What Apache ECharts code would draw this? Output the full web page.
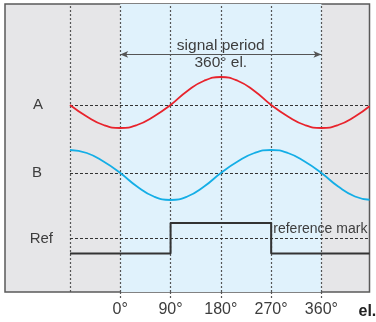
<!DOCTYPE html>
<html><head><meta charset="utf-8">
<script src="https://cdn.jsdelivr.net/npm/echarts@6/dist/echarts.min.js"></script>
<style>html,body{margin:0;padding:0;background:#fff}#c{width:376px;height:322px}</style>
</head><body><div id="c"></div>
<script>
// ---- data ----
const angles  = [-90,-60,-30,0,30,60,90,120,150,180,210,240,270,300,330,360,390,420,446];
const signalA = [0,-0.46,-0.8,-0.92,-0.8,-0.46,0,0.56,0.97,1.12,0.97,0.56,0,-0.46,-0.8,-0.92,-0.8,-0.46,-0.05];
const signalB = [0.92,0.8,0.46,0,-0.54,-0.94,-1.08,-0.94,-0.54,0,0.46,0.8,0.92,0.8,0.46,0,-0.54,-0.94,-1.07];
const refAngles = [-90,90,270,446];
const refLevels = [-0.6,0.62,-0.6,-0.6];
const tickDegrees = [0,90,180,270,360];
const gridDegrees = [-90,0,90,180,270,360];
const periodRange = [0,360];
const trackNames = ['A','B','Ref'];
const periodText = ['signal period','360° el.'];
const refMarkText = 'reference mark';
const axisUnit = 'el.';

const FONT = 'Liberation Sans';
const TXT = '#3d3d3d';
const pts = (xs, ys) => xs.map((x,i)=>[x,ys[i]]);

const chart = echarts.init(document.getElementById('c'), null, {renderer:'canvas'});
const sigGrid = (top) => ({left:70, width:299.5, top:top, height:80, show:false, outerBoundsMode:'none', containLabel:false});
const sigX = (i) => ({type:'value', gridIndex:i, min:-90, max:446, show:false});
const sigY = (i, name, gap, up) => ({
  type:'value', gridIndex:i, min:-1.6, max:1.6, show:true,
  axisLine:{show:false}, axisTick:{show:false}, axisLabel:{show:false}, splitLine:{show:false},
  name:name, nameLocation:'middle', nameRotate:0, nameGap:gap,
  nameTextStyle:{fontFamily:FONT, fontSize:15, color:TXT, align:'right', verticalAlign:'middle', padding:[0,0,up,0]}
});
const zeroLine = {silent:true, symbol:'none', label:{show:false},
  lineStyle:{type:[3,2], color:'#333', width:1}, data:[{yAxis:0}], animation:false};

chart.setOption({
  animation:false,
  grid:[
    {left:5, width:364.5, top:4, height:288, show:true, backgroundColor:'#e6e6e8', borderColor:'#5a5a5a', borderWidth:1.5, outerBoundsMode:'none', containLabel:false},
    sigGrid(65), sigGrid(133), sigGrid(198.5)
  ],
  xAxis:[
    {type:'value', gridIndex:0, min:-206, max:446,
     axisLine:{show:false}, splitLine:{show:false},
     axisTick:{show:true, customValues:tickDegrees, length:8, inside:false, lineStyle:{color:'#555', type:[2,2], width:1.2}},
     axisLabel:{show:true, customValues:tickDegrees, formatter:'{value}°', fontFamily:FONT, fontSize:16, color:TXT, margin:10},
     name:axisUnit, nameLocation:'end', nameGap:-11,
     nameTextStyle:{fontFamily:FONT, fontSize:16, fontWeight:'bold', color:'#222', align:'left', verticalAlign:'top', padding:[12,0,0,0]}},
    sigX(1), sigX(2), sigX(3)
  ],
  yAxis:[
    {type:'value', gridIndex:0, min:0, max:100, show:false},
    sigY(1, trackNames[0], 27, 8), sigY(2, trackNames[1], 28, 31), sigY(3, trackNames[2], 17, 19)
  ],
  series:[
    {type:'line', xAxisIndex:0, yAxisIndex:0, data:[], z:1, silent:true,
     markArea:{silent:true, itemStyle:{color:'#e0f2fc'}, data:[[{xAxis:periodRange[0]},{xAxis:periodRange[1]}]]}},
    {type:'line', xAxisIndex:0, yAxisIndex:0, data:[], z:3, silent:true,
     markLine:{silent:true, symbol:'none', label:{show:false}, animation:false,
       lineStyle:{type:[2,2], color:'#555', width:1.2},
       data:gridDegrees.map(d=>({xAxis:d}))}},
    {type:'line', xAxisIndex:0, yAxisIndex:0, data:[], z:5, silent:true,
     markLine:{silent:true, symbol:['arrow','arrow'], symbolSize:[5,8], label:{show:false}, animation:false,
       lineStyle:{type:'solid', color:'#555', width:1},
       data:[[{coord:[periodRange[0],82.5]},{coord:[periodRange[1],82.5]}]]},
     markPoint:{silent:true, symbol:'rect', symbolSize:1, itemStyle:{color:'rgba(0,0,0,0)'},
       label:{show:true, position:'inside', formatter:periodText.join('\n'), fontFamily:FONT, fontSize:15.5, lineHeight:17, color:TXT, align:'center'},
       data:[{coord:[(periodRange[0]+periodRange[1])/2,82.5]}]}},
    {type:'line', xAxisIndex:1, yAxisIndex:1, data:pts(angles, signalA), smooth:0.5, showSymbol:false, z:6, clip:true,
     lineStyle:{color:'#e8232c', width:1.8}, markLine:zeroLine},
    {type:'line', xAxisIndex:2, yAxisIndex:2, data:pts(angles, signalB), smooth:0.5, showSymbol:false, z:6, clip:true,
     lineStyle:{color:'#14aee6', width:1.8}, markLine:zeroLine},
    {type:'line', xAxisIndex:3, yAxisIndex:3, data:pts(refAngles, refLevels), step:'end', showSymbol:false, z:6, clip:true,
     lineStyle:{color:'#333', width:2}, markLine:zeroLine,
     markPoint:{silent:true, symbol:'rect', symbolSize:1, itemStyle:{color:'rgba(0,0,0,0)'},
       label:{show:true, position:'inside', formatter:refMarkText, fontFamily:FONT, fontSize:14, color:TXT},
       data:[{coord:[358,0.38]}]}}
  ]
});
</script></body></html>
